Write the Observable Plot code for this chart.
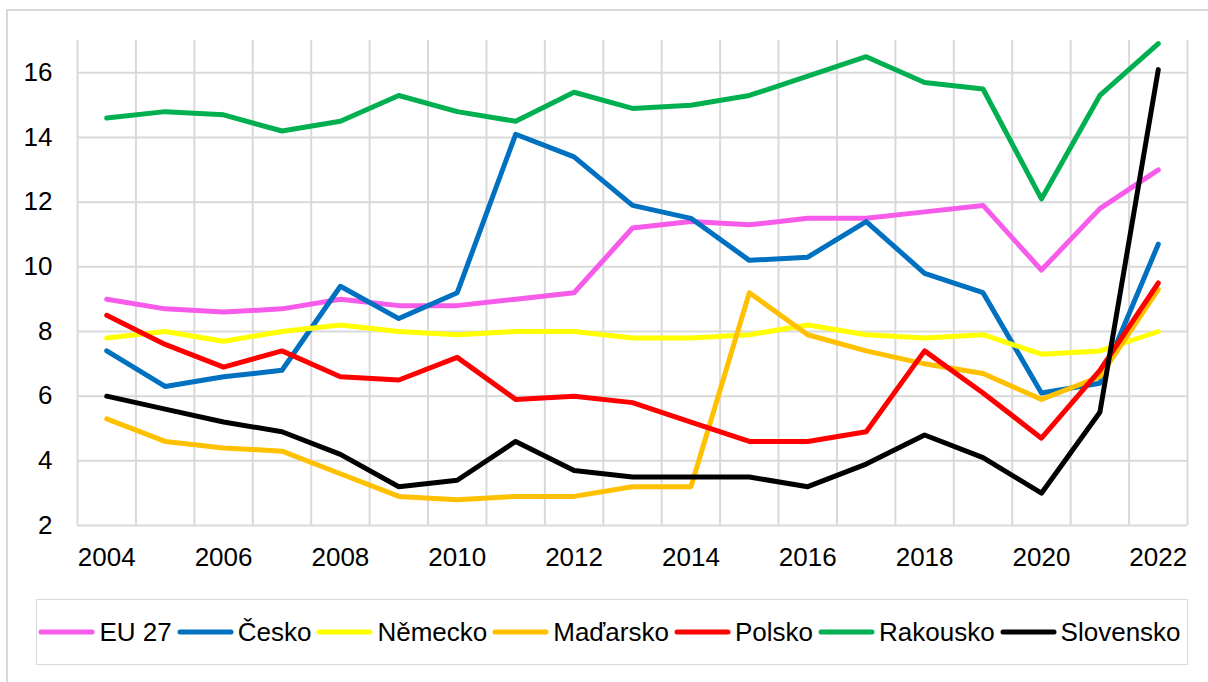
<!DOCTYPE html>
<html>
<head>
<meta charset="utf-8">
<script src="https://cdn.jsdelivr.net/npm/d3@7"></script>
<script src="https://cdn.jsdelivr.net/npm/@observablehq/plot@0.6"></script>
<style>
  html, body { margin: 0; padding: 0; background: #fff; }
  #wrap { position: relative; width: 1208px; height: 682px; overflow: hidden; font-family: "Liberation Sans", Arial, sans-serif; }
  #frame { position: absolute; left: 6px; top: 9px; width: 1300px; height: 800px; border-left: 2px solid #d9d9d9; border-top: 2px solid #d9d9d9; }
  #chart { position: absolute; left: 0; top: 0; }
  #legend { position: absolute; left: 36px; top: 599px; width: 1150px; height: 64px; border: 1.5px solid #d9d9d9; background: #fff;
            display: flex; align-items: center; justify-content: center; font-size: 26px; color: #000; }
  .item { display: flex; align-items: center; margin-right: 5px; white-space: nowrap; }
  .item svg { margin-right: 4px; }
</style>
</head>
<body>
<div id="wrap">
  <div id="frame"></div>
  <div id="chart"></div>
  <div id="legend"></div>
</div>
<script>
const years = [2004,2005,2006,2007,2008,2009,2010,2011,2012,2013,2014,2015,2016,2017,2018,2019,2020,2021,2022];
const eu27      = [9.0,8.7,8.6,8.7,9.0,8.8,8.8,9.0,9.2,11.2,11.4,11.3,11.5,11.5,11.7,11.9,9.9,11.8,13.0];
const cesko     = [7.4,6.3,6.6,6.8,9.4,8.4,9.2,14.1,13.4,11.9,11.5,10.2,10.3,11.4,9.8,9.2,6.1,6.4,10.7];
const nemecko   = [7.8,8.0,7.7,8.0,8.2,8.0,7.9,8.0,8.0,7.8,7.8,7.9,8.2,7.9,7.8,7.9,7.3,7.4,8.0];
const madarsko  = [5.3,4.6,4.4,4.3,3.6,2.9,2.8,2.9,2.9,3.2,3.2,9.2,7.9,7.4,7.0,6.7,5.9,6.6,9.3];
const polsko    = [8.5,7.6,6.9,7.4,6.6,6.5,7.2,5.9,6.0,5.8,5.2,4.6,4.6,4.9,7.4,6.1,4.7,6.8,9.5];
const rakousko  = [14.6,14.8,14.7,14.2,14.5,15.3,14.8,14.5,15.4,14.9,15.0,15.3,15.9,16.5,15.7,15.5,12.1,15.3,16.9];
const slovensko = [6.0,5.6,5.2,4.9,4.2,3.2,3.4,4.6,3.7,3.5,3.5,3.5,3.2,3.9,4.8,4.1,3.0,5.5,16.1];

const seriesNames = ["EU 27","Česko","Německo","Maďarsko","Polsko","Rakousko","Slovensko"];
const seriesValues = [eu27, cesko, nemecko, madarsko, polsko, rakousko, slovensko];
const seriesColors = ["#F75BEA","#0070C0","#FFFF00","#FFC000","#FF0000","#00B050","#000000"];
const yTicks = [2,4,6,8,10,12,14,16];
const xTicks = [2004,2006,2008,2010,2012,2014,2016,2018,2020,2022];

const rows = [];
seriesNames.forEach((name, i) => {
  years.forEach((yr, j) => rows.push({series: name, year: yr, value: seriesValues[i][j]}));
});
const xBounds = years.map(y => y - 0.5).concat([years[years.length - 1] + 0.5]);

const chart = Plot.plot({
  width: 1208,
  height: 599,
  marginLeft: 77,
  marginRight: 21,
  marginTop: 40,
  marginBottom: 74,
  style: {fontFamily: "'Liberation Sans', Arial, sans-serif", fontSize: "26px", color: "#000", background: "transparent", overflow: "visible"},
  x: {domain: [years[0] - 0.5, years[years.length - 1] + 0.5], ticks: xTicks, tickFormat: "d", tickSize: 0, tickPadding: 22, label: null},
  y: {domain: [2, 17], ticks: yTicks, tickSize: 0, tickPadding: 25, label: null},
  color: {domain: seriesNames, range: seriesColors},
  marks: [
    Plot.ruleY(yTicks, {stroke: "#d9d9d9", strokeWidth: 2}),
    Plot.ruleX(xBounds, {y1: 2, y2: 17, stroke: "#d9d9d9", strokeWidth: 2}),
    Plot.axisX({ticks: xTicks, tickFormat: "d", tickSize: 0, tickPadding: 22, fontSize: 26, fill: "#000"}),
    Plot.axisY({ticks: yTicks, tickSize: 0, tickPadding: 25, fontSize: 26, fill: "#000"}),
    ...seriesNames.map(name => Plot.line(rows.filter(r => r.series === name), {
      x: "year", y: "value", stroke: "series", strokeWidth: 5, strokeLinejoin: "round", strokeLinecap: "round"
    }))
  ]
});
document.getElementById("chart").appendChild(chart);

const legend = document.getElementById("legend");
seriesNames.forEach((name, i) => {
  const item = document.createElement("div");
  item.className = "item";
  item.innerHTML = `<svg width="57" height="10"><line x1="3" y1="5" x2="54" y2="5" stroke="${seriesColors[i]}" stroke-width="5" stroke-linecap="round"/></svg><span>${name}</span>`;
  legend.appendChild(item);
});
</script>
</body>
</html>
